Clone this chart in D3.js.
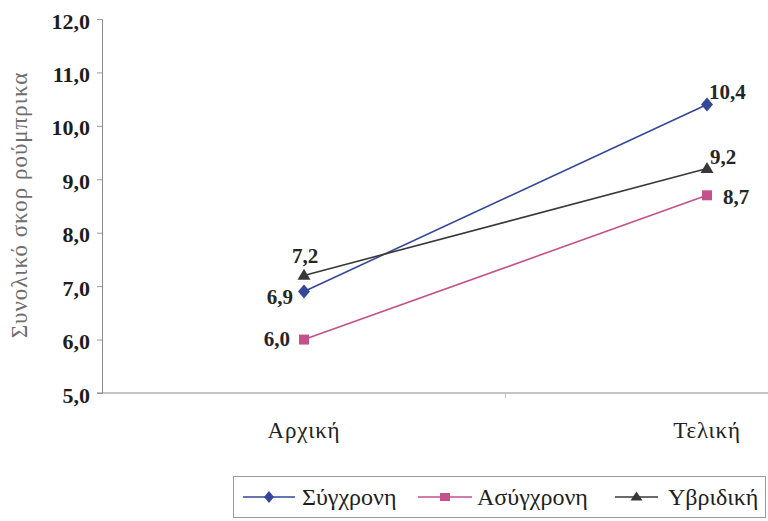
<!DOCTYPE html>
<html>
<head>
<meta charset="utf-8">
<script src="https://cdn.jsdelivr.net/npm/d3@7"></script>
</head>
<body style="margin:0">
<svg id="chart" width="768" height="521" font-family="Liberation Serif">
  <text id="y-title" transform="translate(27,205) rotate(-90)" text-anchor="middle"
        font-family="Liberation Serif" font-size="23" letter-spacing="1" fill="#6e6e6e">Συνολικό σκορ ρούμπρικα</text>
</svg>
<script>
// Measurement phases
const categories = ["Αρχική", "Τελική"];
// Series names and their scores
const seriesNames = ["Σύγχρονη", "Ασύγχρονη", "Υβριδική"];
const syncValues = [6.9, 10.4];
const asyncValues = [6.0, 8.7];
const hybridValues = [7.2, 9.2];
// Y axis ticks
const yTicks = [5, 6, 7, 8, 9, 10, 11, 12];
const yTitle = "Συνολικό σκορ ρούμπρικα";

const FONT = "Liberation Serif";

// marker shapes, width x height, centred on the origin
const diamond = (w, h) => `M0,${-h / 2}L${w / 2},0L0,${h / 2}L${-w / 2},0Z`;
const square = (w, h) => `M${-w / 2},${-h / 2}h${w}v${h}h${-w}Z`;
const triangle = (w, h) => `M0,${-h * 0.6}L${w / 2},${h * 0.4}L${-w / 2},${h * 0.4}Z`;

const series = [
  { name: seriesNames[0], values: syncValues, color: "#34479a", shape: diamond, w: 12, h: 14,
    legendW: 10, legendH: 12,
    labelPos: [{ dx: -11, dy: 13, anchor: "end" }, { dx: 2, dy: -5, anchor: "start" }] },
  { name: seriesNames[1], values: asyncValues, color: "#c4508c", shape: square, w: 10, h: 10,
    legendW: 10, legendH: 8,
    labelPos: [{ dx: -14, dy: 6, anchor: "end" }, { dx: 16, dy: 9, anchor: "start" }] },
  { name: seriesNames[2], values: hybridValues, color: "#383838", shape: triangle, w: 13, h: 11,
    legendW: 12, legendH: 9,
    labelPos: [{ dx: -12, dy: -12, anchor: "start" }, { dx: 3, dy: -5, anchor: "start" }] }
];

const svg = d3.select("#chart");
const plot = { left: 102, top: 19, bottom: 393 };

const x = d3.scaleBand().domain(categories).range([102.5, 908.5]);
const y = d3.scaleLinear().domain([5, 12]).range([plot.bottom, plot.top]);
const cx = c => x(c) + x.bandwidth() / 2;

const fmt = v => d3.format(".1f")(v).replace(".", ",");

// Y title
svg.select("#y-title").text(yTitle);

// Y axis
const yAxis = svg.append("g")
  .attr("transform", `translate(${plot.left},0)`)
  .call(d3.axisLeft(y).tickValues(yTicks).tickSize(5).tickPadding(7).tickFormat(fmt));
yAxis.attr("font-family", FONT).attr("font-size", 22);
yAxis.select(".domain").attr("stroke", "#8a8a8a").attr("stroke-width", 1);
yAxis.selectAll(".tick line").attr("stroke", "#9a9a9a");
yAxis.selectAll(".tick text")
  .attr("font-family", FONT)
  .attr("fill", "#1e1e1e").attr("font-size", 22).attr("font-weight", "bold")
  .attr("dy", 9);

// X axis
const xAxis = svg.append("g")
  .attr("transform", `translate(0,${plot.bottom})`)
  .call(d3.axisBottom(x).tickSize(0).tickFormat(""));
xAxis.attr("font-family", FONT);
xAxis.select(".domain").attr("stroke", "#8a8a8a").attr("d", `M${plot.left - 5},0H909`);
xAxis.selectAll(".tick").remove();
// boundary tick between the two categories
xAxis.append("line")
  .attr("x1", x(categories[1])).attr("x2", x(categories[1]))
  .attr("y1", 0).attr("y2", 5).attr("stroke", "#c4c4c4");

// category labels
svg.append("g").selectAll("text").data(categories).join("text")
  .attr("x", d => cx(d))
  .attr("y", 438)
  .attr("text-anchor", "middle")
  .attr("font-family", FONT)
  .attr("font-size", 23)
  .attr("letter-spacing", 0.8)
  .attr("fill", "#222")
  .text(d => d);

// Lines
const line = d3.line().x((d, i) => cx(categories[i])).y(d => y(d));
series.forEach(s => {
  svg.append("path").datum(s.values)
    .attr("d", line).attr("fill", "none")
    .attr("stroke", s.color).attr("stroke-width", 1.6);
});

// Markers and value labels
series.forEach(s => {
  const g = svg.append("g");
  g.selectAll("path").data(s.values).join("path")
    .attr("transform", (d, i) => `translate(${cx(categories[i])},${y(d)})`)
    .attr("d", s.shape(s.w, s.h))
    .attr("fill", s.color);
  g.selectAll("text").data(s.values).join("text")
    .attr("x", (d, i) => cx(categories[i]) + s.labelPos[i].dx)
    .attr("y", (d, i) => y(d) + s.labelPos[i].dy)
    .attr("text-anchor", (d, i) => s.labelPos[i].anchor)
    .attr("font-family", FONT)
    .attr("font-size", 21)
    .attr("font-weight", "bold")
    .attr("fill", "#262626")
    .text(d => fmt(d));
});

// Legend
const legend = svg.append("g");
legend.append("rect")
  .attr("x", 233.5).attr("y", 476.5).attr("width", 532).attr("height", 41)
  .attr("fill", "#fff").attr("stroke", "#9a9a9a");
const legendItems = [
  { x0: 243, x1: 295, text: 302 },
  { x0: 418, x1: 472, text: 477 },
  { x0: 615, x1: 658, text: 668 }
];
series.forEach((s, i) => {
  const it = legendItems[i];
  const ly = 497;
  legend.append("line")
    .attr("x1", it.x0).attr("x2", it.x1).attr("y1", ly).attr("y2", ly)
    .attr("stroke", s.color).attr("stroke-width", 1.5);
  legend.append("path")
    .attr("transform", `translate(${(it.x0 + it.x1) / 2},${ly})`)
    .attr("d", s.shape(s.legendW, s.legendH))
    .attr("fill", s.color);
  legend.append("text")
    .attr("x", it.text).attr("y", 505)
    .attr("font-family", FONT)
    .attr("font-size", 24).attr("fill", "#1e1e1e")
    .text(s.name);
});
</script>
</body>
</html>
